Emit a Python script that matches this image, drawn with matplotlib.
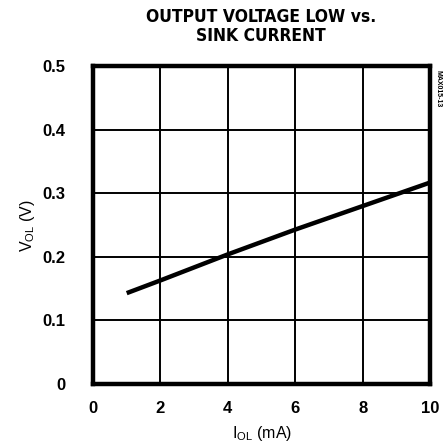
import numpy as np
import matplotlib
matplotlib.use("Agg")
import matplotlib.pyplot as plt

# sink current (mA) and output voltage low (V)
i_ol = [1, 2, 4, 6, 8, 10]
v_ol = [0.143, 0.163, 0.204, 0.243, 0.280, 0.317]

x_ticks = [0, 2, 4, 6, 8, 10]
y_ticks = [0, 0.1, 0.2, 0.3, 0.4, 0.5]
y_labels = ["0", "0.1", "0.2", "0.3", "0.4", "0.5"]

plt.rcParams["font.family"] = ["Liberation Sans", "DejaVu Sans"]

fig = plt.figure(figsize=(4.46, 4.44), dpi=100)
ax = fig.add_axes([0.2085, 0.135, 0.756, 0.716])

ax.plot(i_ol, v_ol, color="black", linewidth=3.2, solid_capstyle="butt")

ax.set_xlim(0, 10)
ax.set_ylim(0, 0.5)
ax.set_xticks(x_ticks)
ax.set_yticks(y_ticks)
ax.set_yticklabels(y_labels)
ax.grid(True, color="black", linewidth=1.4)
ax.tick_params(length=0, labelsize=12)
ax.tick_params(axis="y", pad=20)
ax.tick_params(axis="x", pad=12)
for lbl in ax.get_xticklabels() + ax.get_yticklabels():
    lbl.set_fontweight("bold")
for sp in ax.spines.values():
    sp.set_linewidth(3.2)
    sp.set_color("black")

ax.set_xlabel("I$_{\\mathregular{OL}}$ (mA)", fontsize=11.5, labelpad=6)
ax.set_ylabel("V$_{\\mathregular{OL}}$ (V)", fontsize=11.5)
ax.yaxis.set_label_coords(-0.165, 0.5)

fig.text(0.585, 0.982, "OUTPUT VOLTAGE LOW vs.\nSINK CURRENT", ha="center", va="top",
         fontsize=12.5, fontweight="black", family="DejaVu Sans", fontstretch="condensed",
         linespacing=1.1)
fig.text(0.981, 0.80, "MAX015-13", rotation=270, ha="center", va="center",
         fontsize=5, fontweight="bold")

fig.savefig("out.png", dpi=100)
